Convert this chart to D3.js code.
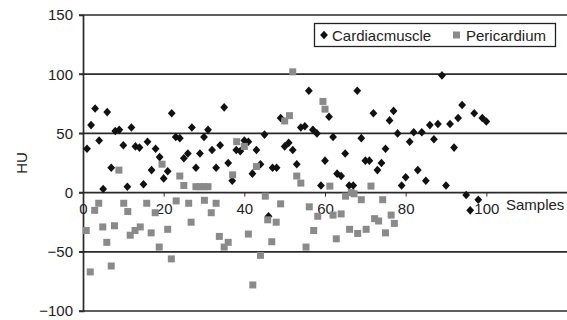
<!DOCTYPE html>
<html>
<head>
<meta charset="utf-8">
<script src="https://cdn.jsdelivr.net/npm/d3@7"></script>
<style>
    body { margin: 0; background: #fff; }
    text { font-family: Arial, "Liberation Sans", Helvetica, sans-serif; fill: #222; }
</style>
</head>
<body>
<div id="chart"></div>
<script>
// Cardiac muscle HU, one value per sample (samples 1..100)
const cardiacHU = [
    37, 57, 71, 44, 3, 68, 21, 52, 53, 40,
    5, 55, 39, 38, 7, 43, 19, 37, 30, 12,
    18, 67, 47, 46, 29, 33, 55, 21, 33, 47,
    53, 36, 21, 40, 72, 25, 10, 36, 35, 44,
    43, 16, 36, 24, 49, -20, 21, 21, 63, 39,
    42, 36, 24, 55, 56, 86, 53, 50, 6, 27,
    64, 47, 16, 14, 33, 6, 6, 86, 46, 27,
    27, 67, 19, 25, 37, 61, 69, 50, 6, 13,
    43, 51, 19, 51, 10, 57, 45, 58, 99, 6,
    58, 38, 63, 74, -2, -15, 67, -6, 63, 60
];

// Pericardium: sample position and HU
const periSample = [
    0.8, 1.8, 2.9, 3.9, 4.9, 5.9, 7, 7.8, 8.9, 10.1,
    11.1, 11.7, 12.9, 14.2, 15.8, 16.9, 17.9, 18.9, 19.6, 21,
    21.9, 23.1, 24, 25, 26.2, 26.8, 28, 29, 30, 31,
    30.1, 31.8, 33, 33.8, 35, 36, 37.1, 38.1, 40, 41,
    42.1, 43, 44, 45.2, 45.8, 46.8, 47.9, 49, 50, 51.2,
    52, 53, 54, 55.3, 56.1, 57.2, 58.2, 59.5, 60, 61.2,
    62, 62.8, 64, 65.1, 66.1, 66.5, 67.2, 68.1, 69, 70.2,
    71.4, 72.3, 73.3, 74.3, 75, 76.4, 77.2
];
const periHU = [
    -32, -67, -15, -9, -29, -42, -62, -28, 19, -9,
    -16, -36, -32, -29, -9, -34, -17, -46, 24, -31,
    -56, -7, 14, 6, -9, -25, 5, 5, 5, 5,
    -6.5, -17, -9, -37, -46, -42, 15, 43, 39, -35,
    -78, 22, -53, -3, -23, -41.5, -25, -9.5, 60.5, 65,
    102, 14, 8, -46, -12, -32, -20, 77, 70.5, 5.5,
    -19, -39, -18, -3, -31, 0, -1, -34.5, -6, -31,
    5.5, -22, -24, -6, -34, -19, -26
];

const xTicks = [0, 20, 40, 60, 80, 100];
const yTicks = [-100, -50, 0, 50, 100, 150];

const width = 567, height = 320;
const svg = d3.select("#chart").append("svg")
    .attr("width", width)
    .attr("height", height);

svg.append("rect").attr("width", width).attr("height", height).attr("fill", "#fff");

// Scales (the x range runs past the right edge, as in the cropped original)
const x = d3.scaleLinear().domain([0, 120]).range([83, 567]);
const y = d3.scaleLinear().domain([-100, 150]).range([311, 15]);

// Horizontal gridlines (incl. the top 150 line and bottom -100 line)
svg.append("g")
    .selectAll("line")
    .data(yTicks)
    .enter().append("line")
    .attr("x1", x(0) - 4)
    .attr("x2", width)
    .attr("y1", d => y(d))
    .attr("y2", d => y(d))
    .attr("stroke", "#2a2a2a")
    .attr("stroke-width", 1.7);

// Y axis
svg.append("g")
    .attr("transform", `translate(${x(0)},0)`)
    .call(d3.axisLeft(y).tickValues(yTicks).tickSize(4).tickPadding(6)
        .tickFormat(d => d < 0 ? "\u2212" + Math.abs(d) : d))
    .call(g => g.select(".domain").attr("stroke", "#2a2a2a").attr("stroke-width", 1.7))
    .call(g => g.selectAll("line").attr("stroke", "#2a2a2a"))
    .call(g => g.selectAll("text").attr("font-size", 15).attr("fill", "#222")
        .style("font-family", "Arial, 'Liberation Sans', sans-serif"));

// X axis on the zero line
svg.append("g")
    .attr("transform", `translate(0,${y(0)})`)
    .call(d3.axisBottom(x).tickValues(xTicks).tickSize(4).tickPadding(7))
    .call(g => g.select(".domain").remove())
    .call(g => g.selectAll("line").attr("stroke", "#2a2a2a"))
    .call(g => g.selectAll("text").attr("font-size", 15).attr("fill", "#222")
        .style("font-family", "Arial, 'Liberation Sans', sans-serif"));

// Axis titles
svg.append("text")
    .attr("transform", `translate(27,${(y(150) + y(-100)) / 2}) rotate(-90)`)
    .attr("text-anchor", "middle")
    .attr("font-size", 15)
    .text("HU");

svg.append("text")
    .attr("x", 506)
    .attr("y", y(0) + 17)
    .attr("font-size", 15)
    .text("Samples");

// Markers
const diamond = "M0,-4.3L3.9,0L0,4.3L-3.9,0Z";

svg.append("g")
    .selectAll("path")
    .data(cardiacHU)
    .enter().append("path")
    .attr("d", diamond)
    .attr("transform", (d, i) => `translate(${x(i + 1)},${y(d)})`)
    .attr("fill", "#111");

svg.append("g")
    .selectAll("rect")
    .data(periHU)
    .enter().append("rect")
    .attr("x", (d, i) => x(periSample[i]) - 3.5)
    .attr("y", d => y(d) - 3.5)
    .attr("width", 7)
    .attr("height", 7)
    .attr("fill", "#8a8a8a");

// Legend
const legend = svg.append("g");
legend.append("rect")
    .attr("x", 314.5).attr("y", 23.5)
    .attr("width", 241).attr("height", 23)
    .attr("fill", "#fff")
    .attr("stroke", "#222")
    .attr("stroke-width", 1.3);
legend.append("path")
    .attr("d", diamond)
    .attr("transform", "translate(324,35)")
    .attr("fill", "#111");
legend.append("text")
    .attr("x", 332).attr("y", 40.5)
    .attr("font-size", 15)
    .text("Cardiacmuscle");
legend.append("rect")
    .attr("x", 453).attr("y", 31.5)
    .attr("width", 7).attr("height", 7)
    .attr("fill", "#8a8a8a");
legend.append("text")
    .attr("x", 466).attr("y", 40.5)
    .attr("font-size", 15)
    .text("Pericardium");
</script>
</body>
</html>
